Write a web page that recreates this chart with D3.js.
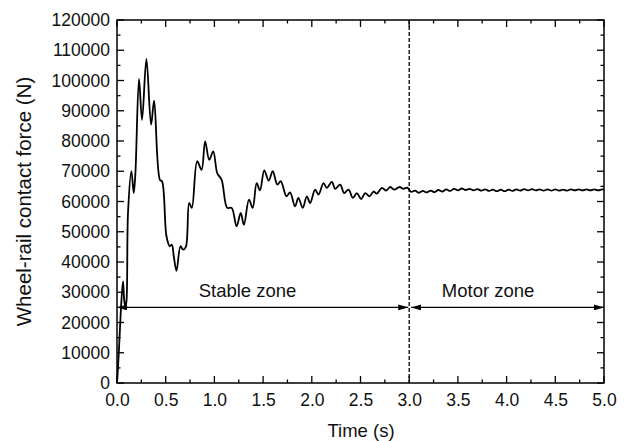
<!DOCTYPE html>
<html>
<head>
<meta charset="utf-8">
<script src="https://cdn.jsdelivr.net/npm/d3@7"></script>
<style>
  body { margin: 0; background: #fff; }
  svg { font-family: "Liberation Sans", Arial, sans-serif; }
</style>
</head>
<body>
<svg id="chart" width="633" height="441"></svg>
<script>
// time (s) and wheel-rail contact force (N)
const time = [0, 0.01, 0.02, 0.035, 0.045, 0.062, 0.075, 0.086, 0.097, 0.113, 0.148, 0.172, 0.189, 0.226, 0.257,
  0.302, 0.35, 0.381, 0.44, 0.463, 0.508, 0.542, 0.563, 0.583, 0.611, 0.652, 0.679, 0.707, 0.741, 0.768,
  0.823, 0.868, 0.905, 0.947, 0.988, 1.029, 1.074, 1.132, 1.177, 1.228, 1.27, 1.303, 1.355, 1.393, 1.434,
  1.468, 1.512, 1.557, 1.599, 1.646, 1.681, 1.74, 1.777, 1.828, 1.862, 1.907, 1.949, 1.983, 2.034, 2.069,
  2.12, 2.154, 2.206, 2.24, 2.291, 2.332, 2.377, 2.422, 2.463, 2.507, 2.548, 2.593, 2.634, 2.668, 2.72,
  2.764, 2.806, 2.847, 2.901, 2.94, 2.98, 3.02, 3.06, 3.10, 3.14, 3.18, 3.22, 3.26, 3.30, 3.34, 3.38,
  3.42, 3.46, 3.50, 3.54, 3.58, 3.62, 3.66, 3.70, 3.74, 3.78, 3.82, 3.86, 3.90, 3.94, 3.98, 4.02, 4.06,
  4.10, 4.14, 4.18, 4.22, 4.26, 4.30, 4.34, 4.38, 4.42, 4.46, 4.50, 4.54, 4.58, 4.62, 4.66, 4.70, 4.74,
  4.78, 4.82, 4.86, 4.90, 4.94, 4.98, 5.0];
const force = [0, 5000, 11000, 21000, 27000, 33600, 27000, 25300, 27000, 56200, 70000, 62800, 69400, 100500, 87000,
  107100, 85400, 93300, 67200, 66600, 48500, 45200, 45700, 41900, 37100, 45200, 44100, 45000, 59500, 57900,
  73300, 70500, 79900, 73800, 76600, 69400, 67200, 57900, 57900, 51800, 56200, 52300, 60600, 57900, 66100,
  63700, 70300, 66900, 70000, 65600, 66700, 61700, 63000, 58400, 61200, 57900, 61700, 59500, 63900, 62300,
  66100, 64500, 66500, 64200, 65600, 62800, 63900, 61200, 62800, 60800, 62800, 61700, 63300, 62600, 64500,
  63600, 64800, 63900, 64800, 64200, 64600, 63200, 63600, 62900, 63500, 63000, 63600, 63100, 63800, 63300, 64000,
  63500, 64200, 63700, 64300, 63800, 64200, 63700, 64100, 63600, 64000, 63500, 63900, 63400, 63900, 63400, 63900, 63500,
  64000, 63600, 64100, 63700, 64100, 63700, 64000, 63600, 64000, 63600, 64000, 63600, 63900, 63600, 64000, 63700, 64000,
  63700, 64000, 63700, 64000, 63700, 64000, 63900];

const xTicks = [0, 0.5, 1, 1.5, 2, 2.5, 3, 3.5, 4, 4.5, 5];
const yTicks = [0, 10000, 20000, 30000, 40000, 50000, 60000, 70000, 80000, 90000, 100000, 110000, 120000];

// zones marked with double arrows
const zoneNames = ["Stable zone", "Motor zone"];
const zoneStart = [0, 3];
const zoneEnd = [3, 5];
const zoneLabelAt = [1.34, 3.81];
const zoneLevel = 25000;

const svg = d3.select("#chart");
const margin = {top: 20, right: 29, bottom: 58, left: 117};
const W = 633, H = 441;

const x = d3.scaleLinear().domain([0, 5]).range([margin.left, W - margin.right]);
const y = d3.scaleLinear().domain([0, 120000]).range([H - margin.bottom, margin.top]);

const minorX = d3.range(0.25, 5, 0.5);
const minorY = d3.range(5000, 120000, 10000);

// ticks (all pointing inward, mirrored on top/right)
const tickG = svg.append("g").attr("stroke", "#000").attr("stroke-width", 1.3);
function hTicks(vals, len) {
  vals.forEach(v => {
    tickG.append("line").attr("x1", x(v)).attr("x2", x(v)).attr("y1", y(0)).attr("y2", y(0) - len);
    tickG.append("line").attr("x1", x(v)).attr("x2", x(v)).attr("y1", y(120000)).attr("y2", y(120000) + len);
  });
}
function vTicks(vals, len) {
  vals.forEach(v => {
    tickG.append("line").attr("y1", y(v)).attr("y2", y(v)).attr("x1", x(0)).attr("x2", x(0) + len);
    tickG.append("line").attr("y1", y(v)).attr("y2", y(v)).attr("x1", x(5)).attr("x2", x(5) - len);
  });
}
hTicks(xTicks, 7); hTicks(minorX, 3.5);
vTicks(yTicks, 7); vTicks(minorY, 3.5);

// tick labels via d3 axes with no tick lines
const xAxis = svg.append("g")
  .attr("transform", `translate(0,${y(0)})`)
  .call(d3.axisBottom(x).tickValues(xTicks).tickFormat(d3.format(".1f")).tickSize(0).tickPadding(11));
const yAxis = svg.append("g")
  .attr("transform", `translate(${x(0)},0)`)
  .call(d3.axisLeft(y).tickValues(yTicks).tickFormat(d3.format("d")).tickSize(0).tickPadding(7));
[xAxis, yAxis].forEach(a => {
  a.select(".domain").remove();
  a.selectAll("text").attr("font-size", 17.5).attr("fill", "#111").style("font-family", "Liberation Sans, Arial, sans-serif");
});

// dashed separator at t = 3 s
svg.append("line")
  .attr("x1", x(3)).attr("x2", x(3)).attr("y1", y(120000)).attr("y2", y(0))
  .attr("stroke", "#000").attr("stroke-width", 1.3).attr("stroke-dasharray", "4,2");

// curve
const line = d3.line()
  .x((d, i) => x(time[i]))
  .y(d => y(d))
  .curve(d3.curveCatmullRom.alpha(0.5));
svg.append("path")
  .datum(force)
  .attr("d", line)
  .attr("fill", "none")
  .attr("stroke", "#000")
  .attr("stroke-width", 1.8)
  .attr("stroke-linejoin", "round");

// arrows
svg.append("defs").append("marker")
  .attr("id", "arr")
  .attr("viewBox", "0 0 10 6")
  .attr("refX", 10).attr("refY", 3)
  .attr("markerWidth", 10).attr("markerHeight", 6)
  .attr("markerUnits", "userSpaceOnUse")
  .attr("orient", "auto-start-reverse")
  .append("path").attr("d", "M0,0L10,3L0,6Z").attr("fill", "#000");

zoneNames.forEach((name, i) => {
  const x0 = x(zoneStart[i]) + (i > 0 ? 2 : 0);
  const x1 = x(zoneEnd[i]) - (i === 0 ? 1 : 0);
  svg.append("line")
    .attr("x1", x0).attr("x2", x1).attr("y1", y(zoneLevel)).attr("y2", y(zoneLevel))
    .attr("stroke", "#000").attr("stroke-width", 1.4)
    .attr("marker-start", "url(#arr)").attr("marker-end", "url(#arr)");
  svg.append("text")
    .attr("x", x(zoneLabelAt[i]))
    .attr("y", y(zoneLevel) - 10)
    .attr("text-anchor", "middle")
    .attr("font-size", 18.5)
    .attr("fill", "#111")
    .text(name);
});

// frame
svg.append("rect")
  .attr("x", x(0)).attr("y", y(120000))
  .attr("width", x(5) - x(0)).attr("height", y(0) - y(120000))
  .attr("fill", "none").attr("stroke", "#000").attr("stroke-width", 1.5);

// axis titles
svg.append("text")
  .attr("x", 361).attr("y", 437)
  .attr("text-anchor", "middle").attr("font-size", 18.5).attr("fill", "#111")
  .text("Time (s)");
svg.append("text")
  .attr("transform", `translate(31,${(y(0) + y(120000)) / 2}) rotate(-90)`)
  .attr("text-anchor", "middle").attr("font-size", 20.5).attr("fill", "#111")
  .text("Wheel-rail contact force (N)");
</script>
</body>
</html>
